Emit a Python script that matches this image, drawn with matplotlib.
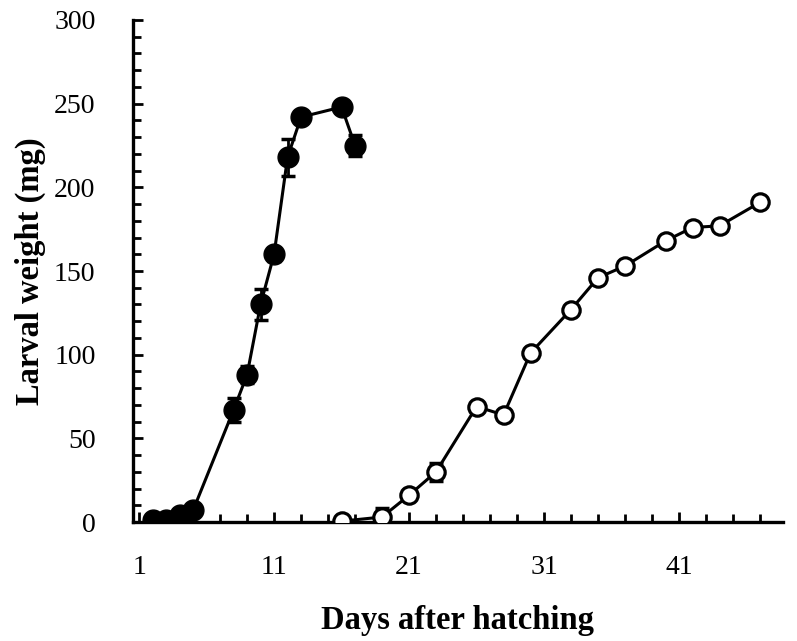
import matplotlib
matplotlib.use("Agg")
import matplotlib.pyplot as plt
from matplotlib.ticker import MultipleLocator, FixedLocator

# filled circles (first series)
days_a = [2, 3, 4, 5, 8, 9, 10, 11, 12, 13, 16, 17]
weight_a = [1, 1, 4, 7, 67, 88, 130, 160, 218, 242, 248, 225]
err_a = [1, 1, 1, 1, 7, 5, 9, 4, 11, 3, 2, 6]

# open circles (second series)
days_b = [16, 19, 21, 23, 26, 28, 30, 33, 35, 37, 40, 42, 44, 47]
weight_b = [0.5, 3, 16, 30, 69, 64, 101, 127, 146, 153, 168, 176, 177, 191]
err_b = [0.5, 5.5, 2, 5.5, 2, 2, 2, 2, 2, 2, 2, 2, 2, 2]

x_ticks = [1, 11, 21, 31, 41]
y_ticks = [0, 50, 100, 150, 200, 250, 300]

plt.rcParams["font.family"] = ["Liberation Serif", "DejaVu Serif"]

fig = plt.figure(figsize=(7.97, 6.41), dpi=100)
ax = fig.add_axes([0.1669, 0.1856, 0.8155, 0.7832])

ax.errorbar(days_a, weight_a, yerr=err_a, fmt="none", ecolor="black",
            elinewidth=2, capsize=5, capthick=2.5, zorder=2)
ax.plot(days_a, weight_a, color="black", lw=2.2, marker="o", ms=15,
        mfc="black", mec="black", zorder=3)

ax.errorbar(days_b, weight_b, yerr=err_b, fmt="none", ecolor="black",
            elinewidth=2, capsize=5, capthick=2.5, zorder=2)
ax.plot(days_b, weight_b, color="black", lw=2.2, marker="o", ms=12.5,
        mfc="white", mec="black", mew=2.3, zorder=3)

ax.set_xlim(0.55, 48.7)
ax.set_ylim(0, 300)
ax.xaxis.set_major_locator(FixedLocator(x_ticks))
ax.xaxis.set_minor_locator(FixedLocator([d for d in range(3, 49, 2) if d not in x_ticks]))
ax.yaxis.set_major_locator(FixedLocator(y_ticks))
ax.yaxis.set_minor_locator(MultipleLocator(10))

for side in ("top", "right"):
    ax.spines[side].set_visible(False)
for side in ("left", "bottom"):
    ax.spines[side].set_linewidth(2.4)

ax.tick_params(which="both", direction="in", width=2, labelsize=20)
ax.tick_params(which="major", length=7)
ax.tick_params(which="minor", length=6)
ax.tick_params(axis="x", which="major", pad=24)
ax.tick_params(axis="y", which="major", pad=27)

ax.set_xlabel("Days after hatching", fontsize=23.5, fontweight="bold", labelpad=18)
ax.set_ylabel("Larval weight (mg)", fontsize=23.5, fontweight="bold", labelpad=6)

fig.savefig("out.png", dpi=100)
